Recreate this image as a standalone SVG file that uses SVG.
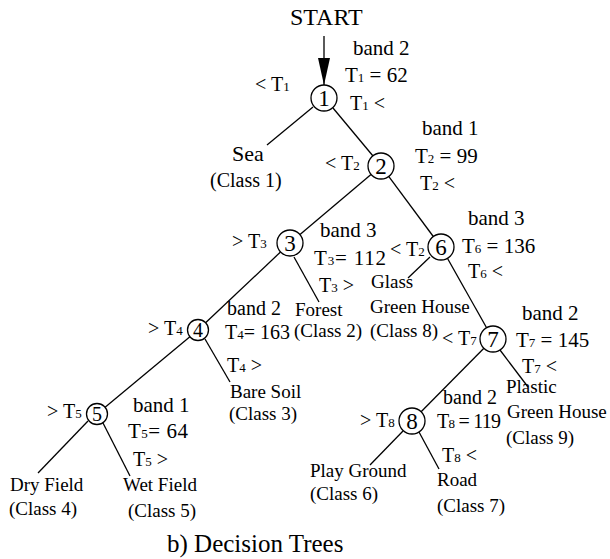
<svg xmlns="http://www.w3.org/2000/svg" width="610" height="559" viewBox="0 0 610 559">
<style>
text{font-family:"Liberation Serif","Times New Roman",serif;fill:#000}
.lb{font-size:21px}
.lbs{font-size:20px}
.cmp{font-size:20px}
.leaf{font-size:19px}
.sub{font-size:13px}
.num{font-size:23px;text-anchor:middle}
.nums{font-size:20px;text-anchor:middle}
circle{fill:#fff;stroke:#000;stroke-width:1.3}
.e line{stroke:#000;stroke-width:1.3}
</style>
<defs>
<marker id="ah" markerWidth="28" markerHeight="12" refX="27" refY="6" orient="auto" markerUnits="userSpaceOnUse" viewBox="0 0 28 12">
<polygon points="0,0 27,6 0,12" fill="#000"/>
</marker>
</defs>
<rect width="610" height="559" fill="#fff"/>
<text x="290" y="25" style="font-size:24px">START</text>
<g class="e" id="connectors">
<line x1="324" y1="36" x2="324" y2="85" marker-end="url(#ah)"/>
<line x1="313" y1="107" x2="267" y2="145"/>
<line x1="333" y1="108" x2="373" y2="156"/>
<line x1="371" y1="174.4" x2="300" y2="234.6"/>
<line x1="388.7" y1="176.4" x2="433.3" y2="236.5"/>
<line x1="280.5" y1="252" x2="205.6" y2="322.8"/>
<line x1="294" y1="257" x2="319" y2="302"/>
<line x1="430" y1="257" x2="408" y2="278"/>
<line x1="447.4" y1="258.3" x2="486.6" y2="327.7"/>
<line x1="189.9" y1="336.7" x2="105.1" y2="407.3"/>
<line x1="205" y1="339" x2="230" y2="382"/>
<line x1="500" y1="350" x2="528" y2="387"/>
<line x1="483.9" y1="348.2" x2="421.1" y2="411.8"/>
<line x1="88" y1="421" x2="38" y2="473"/>
<line x1="103" y1="423" x2="130" y2="476"/>
<line x1="403" y1="431" x2="370" y2="465"/>
<line x1="419" y1="432" x2="439" y2="469"/>
</g>
<g id="n1">
<circle cx="324" cy="98" r="13"/><text class="num" x="324" y="106">1</text>
<text class="lb" x="353" y="55">band 2</text>
<text class="lb" x="345" y="82">T<tspan class="sub">1</tspan> = 62</text>
<text class="cmp" x="255" y="91">&lt; T<tspan class="sub">1</tspan></text>
<text class="cmp" x="350" y="110">T<tspan class="sub">1</tspan> &lt;</text>
</g>
<g id="sea">
<text x="232" y="161" style="font-size:22px">Sea</text>
<text x="210" y="187" style="font-size:20px">(Class 1)</text>
</g>
<g id="n2">
<circle cx="381" cy="166" r="13"/><text class="num" x="381" y="174">2</text>
<text class="cmp" x="325" y="170">&lt; T<tspan class="sub">2</tspan></text>
<text class="lb" x="422" y="135">band 1</text>
<text class="lb" x="415" y="163">T<tspan class="sub">2</tspan> = 99</text>
<text class="cmp" x="420" y="190">T<tspan class="sub">2</tspan> &lt;</text>
</g>
<g id="n3">
<circle cx="290" cy="243" r="13"/><text class="num" x="290" y="251">3</text>
<text class="cmp" x="232" y="248">&gt; T<tspan class="sub">3</tspan></text>
<text class="lb" x="320" y="237">band 3</text>
<text class="lb" x="314" y="265" textLength="72">T<tspan class="sub">3</tspan>= 112</text>
<text class="cmp" x="319" y="292">T<tspan class="sub">3</tspan> &gt;</text>
</g>
<g id="forest">
<text class="leaf" x="295" y="316">Forest</text>
<text class="leaf" x="294" y="337">(Class 2)</text>
</g>
<g id="n6">
<circle cx="441" cy="247" r="13"/><text class="num" x="441" y="255">6</text>
<text class="cmp" x="390" y="256">&lt; T<tspan class="sub">2</tspan></text>
<text class="lb" x="468" y="225">band 3</text>
<text class="lb" x="462" y="253">T<tspan class="sub">6</tspan> = 136</text>
<text class="cmp" x="468" y="278">T<tspan class="sub">6</tspan> &lt;</text>
</g>
<g id="glass">
<text class="leaf" x="371" y="288">Glass</text>
<text class="leaf" x="370" y="313">Green House</text>
<text class="leaf" x="370" y="337">(Class 8)</text>
</g>
<g id="n4">
<circle cx="198" cy="330" r="10.5"/><text class="nums" x="198" y="337">4</text>
<text class="cmp" x="148" y="335">&gt; T<tspan class="sub">4</tspan></text>
<text class="lbs" x="227" y="315">band 2</text>
<text class="lbs" x="225" y="339" textLength="65">T<tspan class="sub">4</tspan>= 163</text>
<text class="cmp" x="227" y="372">T<tspan class="sub">4</tspan> &gt;</text>
</g>
<g id="baresoil">
<text class="leaf" x="230" y="398">Bare Soil</text>
<text class="leaf" x="229" y="420">(Class 3)</text>
</g>
<g id="n7">
<circle cx="493" cy="339" r="13"/><text class="num" x="493" y="347">7</text>
<text class="cmp" x="442" y="345">&lt; T<tspan class="sub">7</tspan></text>
<text class="lb" x="522" y="320">band 2</text>
<text class="lb" x="516" y="347">T<tspan class="sub">7</tspan> = 145</text>
<text class="cmp" x="522" y="373">T<tspan class="sub">7</tspan> &lt;</text>
</g>
<g id="plastic">
<text class="leaf" x="506" y="393">Plastic</text>
<text class="leaf" x="507" y="418">Green House</text>
<text class="leaf" x="506" y="444">(Class 9)</text>
</g>
<g id="n5">
<circle cx="97" cy="414" r="10.5"/><text class="nums" x="97" y="421">5</text>
<text class="cmp" x="47" y="418">&gt; T<tspan class="sub">5</tspan></text>
<text class="lb" x="133" y="412">band 1</text>
<text class="lb" x="128" y="438" textLength="60">T<tspan class="sub">5</tspan>= 64</text>
<text class="cmp" x="133" y="466">T<tspan class="sub">5</tspan> &gt;</text>
</g>
<g id="dryfield">
<text class="leaf" x="10" y="491">Dry Field</text>
<text class="leaf" x="9" y="515">(Class 4)</text>
</g>
<g id="wetfield">
<text class="leaf" x="123" y="491">Wet Field</text>
<text class="leaf" x="128" y="517">(Class 5)</text>
</g>
<g id="n8">
<circle cx="412" cy="421" r="13"/><text class="num" x="412" y="429">8</text>
<text class="cmp" x="360" y="427">&gt; T<tspan class="sub">8</tspan></text>
<text class="lbs" x="443" y="404">band 2</text>
<text class="lbs" x="437" y="428" textLength="64">T<tspan class="sub">8</tspan> = 119</text>
<text class="cmp" x="442" y="462">T<tspan class="sub">8</tspan> &lt;</text>
</g>
<g id="playground">
<text class="leaf" x="310" y="477">Play Ground</text>
<text class="leaf" x="310" y="500">(Class 6)</text>
</g>
<g id="road">
<text class="leaf" x="437" y="486">Road</text>
<text class="leaf" x="437" y="512">(Class 7)</text>
</g>
<text x="167" y="552" style="font-size:25px">b) Decision Trees</text>
</svg>
